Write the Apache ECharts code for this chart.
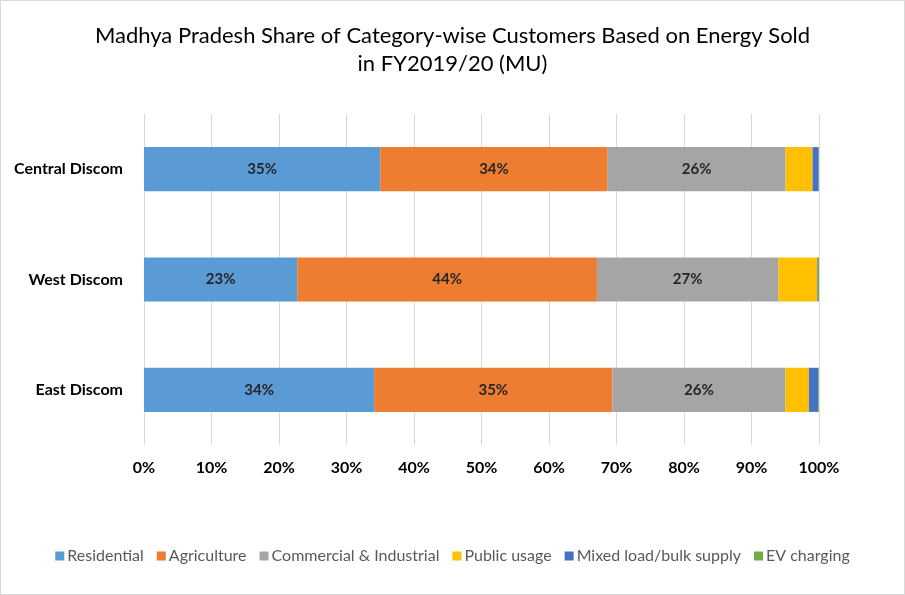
<!DOCTYPE html>
<html>
<head>
<meta charset="utf-8">
<title>Madhya Pradesh category-wise share</title>
<script src="https://cdn.jsdelivr.net/npm/echarts@6/dist/echarts.min.js"></script>
<style>
  html, body { margin: 0; padding: 0; background: #fff; }
  #chart { width: 903px; height: 593px; border: 1px solid #d9d9d9; }
</style>
</head>
<body>
<div id="chart"></div>
<script>
// discoms, top to bottom
var discoms = ['Central Discom', 'West Discom', 'East Discom'];
var categories = ['Residential', 'Agriculture', 'Commercial & Industrial', 'Public usage', 'Mixed load/bulk supply', 'EV charging'];
var colors = ['#5B9BD5', '#ED7D31', '#A5A5A5', '#FFC000', '#4472C4', '#70AD47'];

// share of energy sold, %
var residential = [35.0, 22.7, 34.1];
var agriculture = [33.7, 44.4, 35.3];
var commercial  = [26.35, 26.9, 25.6];
var publicUsage = [4.0, 5.75, 3.5];
var mixedLoad   = [0.9, 0.1, 1.4];
var evCharging  = [0.05, 0.15, 0.1];

var values = [residential, agriculture, commercial, publicUsage, mixedLoad, evCharging];
var labelled = [true, true, true, false, false, false];

var font = 'Lato, "Open Sans", sans-serif';

var series = categories.map(function (name, i) {
  return {
    name: name,
    type: 'bar',
    stack: 'total',
    barWidth: '40%',
    itemStyle: { color: colors[i] },
    label: {
      show: labelled[i],
      position: 'inside',
      color: '#262626',
      fontFamily: font,
      fontWeight: 'bold',
      fontSize: 15,
      formatter: function (p) { return Math.round(p.value) + '%'; }
    },
    data: values[i]
  };
});

var myChart = echarts.init(document.getElementById('chart'));
myChart.setOption({
  animation: false,
  title: {
    left: 'center',
    top: 16,
    text: 'Madhya Pradesh Share of Category-wise Customers Based on Energy Sold\nin FY2019/20 (MU)',
    textStyle: {
      fontFamily: font,
      fontWeight: 'normal',
      fontSize: 22,
      lineHeight: 28,
      color: '#000'
    }
  },
  legend: {
    bottom: 25,
    left: 'center',
    itemWidth: 9,
    itemHeight: 9,
    itemGap: 13,
    icon: 'rect',
    textStyle: { fontFamily: font, fontSize: 16, color: '#595959', padding: [0, 0, 0, -2] },
    data: categories
  },
  grid: { left: 143, right: 85, top: 113, height: 331 },
  xAxis: {
    type: 'value',
    min: 0,
    max: 100,
    interval: 10,
    axisLine: { show: false },
    axisTick: { show: false },
    axisLabel: {
      formatter: '{value}%',
      margin: 15,
      color: '#000',
      fontFamily: font,
      fontWeight: 'bold',
      fontSize: 16
    },
    splitLine: { lineStyle: { color: '#d9d9d9', width: 1 } }
  },
  yAxis: {
    type: 'category',
    inverse: true,
    data: discoms,
    axisLine: { show: false },
    axisTick: { show: false },
    axisLabel: {
      margin: 21,
      color: '#000',
      fontFamily: font,
      fontWeight: 'bold',
      fontSize: 16
    }
  },
  series: series
});

window.onresize = function () {
  myChart.resize();
};
</script>
</body>
</html>
